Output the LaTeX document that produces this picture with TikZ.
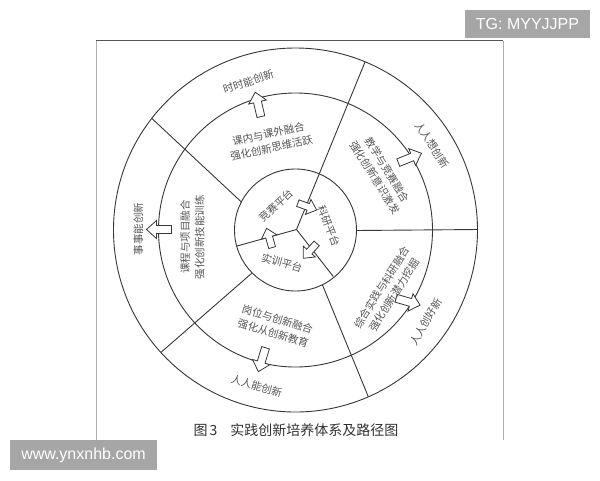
\documentclass[tikz,border=0pt]{standalone}
\usepackage{fontspec}
\setmainfont{Liberation Sans}
\newfontfamily\cjk{Noto Sans CJK SC}
\definecolor{lnc}{RGB}{55,55,55}
\definecolor{txc}{RGB}{85,85,85}
\definecolor{capc}{RGB}{50,50,50}
\definecolor{wmg}{RGB}{166,166,166}
\definecolor{frtop}{RGB}{85,85,85}
\definecolor{frside}{RGB}{175,175,175}
\tikzset{
  ring/.style={draw=lnc, line width=0.9pt},
  lbl/.style={text=txc, font=\cjk\fontsize{10.5}{14.5}\selectfont, inner sep=0pt, align=center},
  barr/.style={draw=lnc, fill=white, line width=0.8pt, line join=miter},
  wmtext/.style={text=white, font=\fontsize{16}{18}\selectfont, inner sep=0pt},
}
\newcommand\blkarrow[3]{\draw[barr, shift={(#1,#2)}, rotate=#3] (-15,4) -- (0,4) -- (0,9) -- (10,0) -- (0,-9) -- (0,-4) -- (-15,-4) -- cycle;}
\newcommand\smlarrow[3]{\draw[barr, shift={(#1,#2)}, rotate=#3] (-11,3.5) -- (0,3.5) -- (0,8) -- (9,0) -- (0,-8) -- (0,-3.5) -- (-11,-3.5) -- cycle;}
\begin{document}
\begin{tikzpicture}[x=1pt,y=-1pt]
\useasboundingbox (0,0) rectangle (600,480);
\fill[white] (0,0) rectangle (600,480);
% frame
\draw[frside, line width=0.8pt] (96,40.7) -- (96,440);
\draw[frside, line width=0.8pt] (503,40.7) -- (503,440);
\draw[frtop, line width=0.9pt] (96,40.7) -- (503,40.7);
% circles
\coordinate (O) at (295.5,230);
\coordinate (J) at (296.5,229.5);
\draw[ring] (O) circle[radius=182];
\draw[ring] (O) circle[radius=137];
\draw[ring] (O) circle[radius=61];
% dividing lines
\coordinate (a1) at (241.7,202.3); \coordinate (a2) at (151.7,118.3);
\coordinate (b2) at (365,62);
\coordinate (jl) at (237,246);
\coordinate (jr) at (333.3,276.5);
\coordinate (c1) at (251.7,273.3); \coordinate (c2) at (160.8,352.5);
\coordinate (d1) at (322.5,285); \coordinate (d2) at (368.3,396.7);
\coordinate (e1) at (356.5,230.5); \coordinate (e2) at (478,229.5);
\draw[ring] (a1) -- (a2);
\draw[ring] (J) -- (b2);
\draw[ring] (J) -- (jl);
\draw[ring] (J) -- (jr);
\draw[ring] (c1) -- (c2);
\draw[ring] (d1) -- (d2);
\draw[ring] (e1) -- (e2);
% outer block arrows
\blkarrow{257.5}{102}{103}
\blkarrow{156.5}{229.5}{180}
\blkarrow{261.2}{362.1}{253}
\blkarrow{412.2}{157}{22}
\blkarrow{410.5}{302.4}{-16}
% inner arrows
\smlarrow{308.2}{206.9}{-20}
\smlarrow{309.3}{251.6}{228}
\smlarrow{269.1}{237}{106}
% inner labels
\node[lbl, rotate=43] (jingsai) at (276.5,205.5) {竞赛平台};
\node[lbl, rotate=-69] (keyan) at (329,226) {科研平台};
\node[lbl, rotate=-16] (shixun) at (282,263) {实训平台};
% middle ring labels
\node[lbl, rotate=12] (m1) at (270,141) {课内与课外融合\\强化创新思维活跃};
\node[lbl, rotate=-58] (m2) at (381.2,173.7) {教学与竞赛融合\\强化创新意识激发};
\node[lbl, rotate=58] (m3) at (388,291.2) {综合实践与科研融合\\强化创新潜力挖掘};
\node[lbl, rotate=-17] (m4) at (275.4,326.3) {岗位与创新融合\\强化从创新教育};
\node[lbl, rotate=90] (m5) at (192.5,237) {课程与项目融合\\强化创新技能训练};
% outer ring labels
\node[lbl, rotate=18] (o1) at (248.3,81.7) {时时能创新};
\node[lbl, rotate=-57] (o2) at (432.5,145) {人人想创新};
\node[lbl, rotate=60] (o3) at (425.8,321.7) {人人创好新};
\node[lbl, rotate=-16] (o4) at (256.7,385.8) {人人能创新};
\node[lbl, rotate=90] (o5) at (138.3,229) {事事能创新};
% caption
\node[text=capc, font=\cjk\fontsize{14}{16}\selectfont, inner sep=0pt] (cap) at (296,430) {图\hspace{2pt}3\hspace{13pt}实践创新培养体系及路径图};
% watermarks
\fill[wmg] (465,10) rectangle (590,38);
\node[wmtext] (wm1) at (527.5,24) {TG: MYYJJPP};
\fill[wmg] (10,440) rectangle (157,470);
\node[wmtext] (wm2) at (83.5,455) {www.ynxnhb.com};
\end{tikzpicture}
\end{document}
